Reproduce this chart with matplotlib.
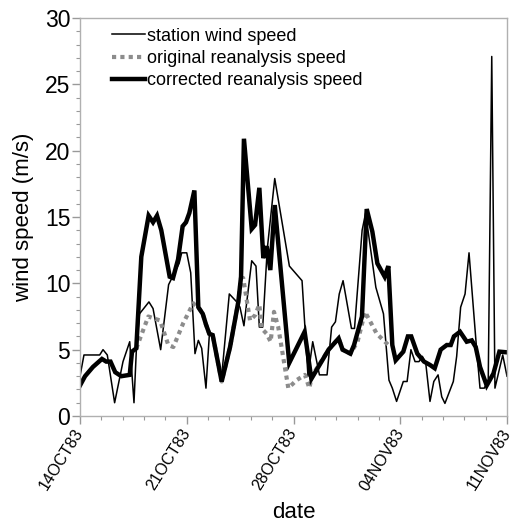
import matplotlib
matplotlib.use("Agg")
import matplotlib.pyplot as plt
from matplotlib.ticker import MultipleLocator, FixedLocator

plt.rcParams['font.family'] = ['Liberation Sans', 'DejaVu Sans']

# days since 14OCT83
station_t = [0, 0.26, 1.29, 1.51, 1.79, 2.27, 2.82, 3.26, 3.54, 3.70, 3.90, 4.52, 4.79, 5.29,
             5.81, 6.2, 6.5, 6.67, 7.0, 7.26, 7.54, 7.76, 7.98, 8.26, 8.48, 8.7, 9.29, 9.79,
             10.28, 10.49, 10.75, 11.26, 11.54, 11.76, 11.98, 12.28, 12.77, 13.73, 14.56,
             14.95, 15.26, 15.7, 16.2, 16.5, 16.75, 17.0, 17.25, 17.8, 18.0, 18.5, 18.73,
             19.4, 19.9, 20.26, 20.48, 20.76, 21.2, 21.45, 21.7, 21.97, 22.23, 22.45, 22.67,
             22.95, 23.2, 23.48, 23.72, 23.93, 24.48, 24.7, 24.96, 25.25, 25.51, 25.79,
             26.01, 26.23, 26.51, 26.77, 27.0, 27.21, 27.72, 28.0]
station_v = [3.0, 4.6, 4.6, 5.0, 4.6, 1.0, 4.1, 5.6, 1.0, 5.1, 7.7, 8.6, 8.1, 5.0,
             9.9, 10.8, 11.5, 12.3, 12.3, 10.8, 4.7, 5.7, 5.1, 2.1, 6.1, 6.2, 3.0, 9.2,
             8.6, 8.2, 6.8, 11.7, 11.3, 6.7, 6.7, 12.6, 17.9, 11.3, 10.2,
             3.0, 5.6, 3.1, 3.1, 6.7, 7.1, 9.2, 10.2, 6.6, 6.6, 14.0, 15.3,
             9.7, 7.7, 2.7, 2.1, 1.1, 2.6, 2.6, 5.0, 4.1, 4.1, 4.5, 4.0,
             1.1, 2.6, 3.1, 1.45, 0.95, 2.6, 4.5, 8.2, 9.2, 12.3, 8.2,
             5.0, 2.1, 2.1, 2.7, 27.1, 2.1, 4.6, 3.0]

orig_t = [3.69, 4.48, 5.25, 5.79, 6.12, 6.77, 7.43, 7.6, 7.76, 8.05, 8.26, 8.48, 8.7, 9.29,
          9.84, 10.38, 10.56, 10.7, 11.15, 11.48, 11.76, 11.91, 12.24, 12.5, 12.72, 13.0,
          13.66, 14.2, 14.75, 15.04, 15.2, 16.3, 16.96, 17.22, 17.73, 18.2, 18.69, 19.46,
          20.22, 20.48]
orig_v = [5.1, 7.5, 7.2, 5.35, 5.2, 7.0, 8.5, 8.3, 8.2, 7.7, 6.9, 6.2, 6.1, 2.6,
          5.2, 8.6, 10.4, 10.4, 7.2, 7.6, 8.4, 6.6, 6.2, 5.6, 7.85, 6.7,
          2.1, 2.7, 3.1, 2.1, 3.0, 5.0, 5.85, 5.0, 4.7, 5.6, 7.85, 6.2,
          5.35, 5.35]

corr_t = [0, 0.33, 0.85, 1.44, 1.72, 2.0, 2.31, 2.71, 3.26, 3.41, 3.69, 4.02, 4.5, 4.79,
          5.05, 5.33, 5.88, 6.1, 6.43, 6.73, 6.95, 7.17, 7.5, 7.76, 8.05, 8.26, 8.48, 8.7,
          9.29, 9.84, 10.38, 10.56, 10.75, 11.26, 11.48, 11.76, 12.02, 12.24, 12.48, 12.77,
          13.72, 14.73, 15.17, 16.3, 16.96, 17.22, 17.73, 17.97, 18.49, 18.8, 19.17, 19.5,
          19.98, 20.22, 20.48, 20.7, 21.2, 21.5, 21.72, 22.12, 22.56, 22.95, 23.26, 23.65,
          24.05, 24.31, 24.52, 24.92, 25.36, 25.69, 25.95, 26.23, 26.67, 27.11, 27.5, 28.0]
corr_v = [2.3, 3.0, 3.7, 4.3, 4.1, 4.1, 3.3, 3.0, 3.1, 4.85, 5.1, 12.0, 15.1, 14.6,
          15.1, 14.0, 10.5, 10.4, 11.8, 14.3, 14.6, 15.3, 17.0, 8.2, 7.7, 6.9, 6.2, 6.1,
          2.6, 5.2, 8.6, 10.5, 20.9, 14.1, 14.4, 17.2, 11.9, 12.8, 11.0, 15.9,
          4.0, 6.35, 2.8, 5.0, 5.85, 5.0, 4.7, 5.35, 7.5, 15.6, 13.9, 11.5,
          10.5, 11.3, 5.35, 4.2, 4.85, 6.0, 6.0, 4.7, 4.1, 3.85, 3.6, 5.0,
          5.35, 5.35, 6.0, 6.35, 5.6, 5.7, 5.2, 3.7, 2.3, 3.2, 4.85, 4.8]

tick_days = [0, 7, 14, 21, 28]
tick_labels = ["14OCT83", "21OCT83", "28OCT83", "04NOV83", "11NOV83"]

fig = plt.figure(figsize=(5.14, 5.27), dpi=100)
ax = fig.add_axes([80/514, 1-416/527, 427/514, 398/527])

ax.plot(station_t, station_v, color='black', lw=1.1, label='station wind speed')
ax.plot(orig_t, orig_v, color='#8c8c8c', lw=3, linestyle=(0, (1, 1)),
        label='original reanalysis speed')
ax.plot(corr_t, corr_v, color='black', lw=3.2, label='corrected reanalysis speed',
        solid_joinstyle='miter')

ax.set_xlim(0, 28)
ax.set_ylim(0, 30)
ax.xaxis.set_major_locator(FixedLocator(tick_days))
ax.set_xticklabels(tick_labels, rotation=58, ha='right', va='center',
                   rotation_mode='anchor', fontsize=11.5)
ax.xaxis.set_minor_locator(MultipleLocator(1.4))
ax.yaxis.set_major_locator(MultipleLocator(5))
ax.yaxis.set_minor_locator(MultipleLocator(1))
ax.tick_params(axis='y', labelsize=16.5, pad=1)
ax.tick_params(axis='x', pad=4)
ax.tick_params(which='major', length=6, width=1, color='#999999')
ax.tick_params(which='minor', length=3, width=0.8, color='#999999')
for s in ax.spines.values():
    s.set_color('#b0b0b0')
    s.set_linewidth(1)

ax.set_xlabel('date', fontsize=16, labelpad=6)
ax.set_ylabel('wind speed (m/s)', fontsize=16, labelpad=8)

ax.legend(loc='upper left', bbox_to_anchor=(0.045, 1.0075), frameon=False, fontsize=13,
          handlelength=1.83, handletextpad=0.1, labelspacing=0.29, borderaxespad=0.3)

fig.savefig('out.png', dpi=100)
